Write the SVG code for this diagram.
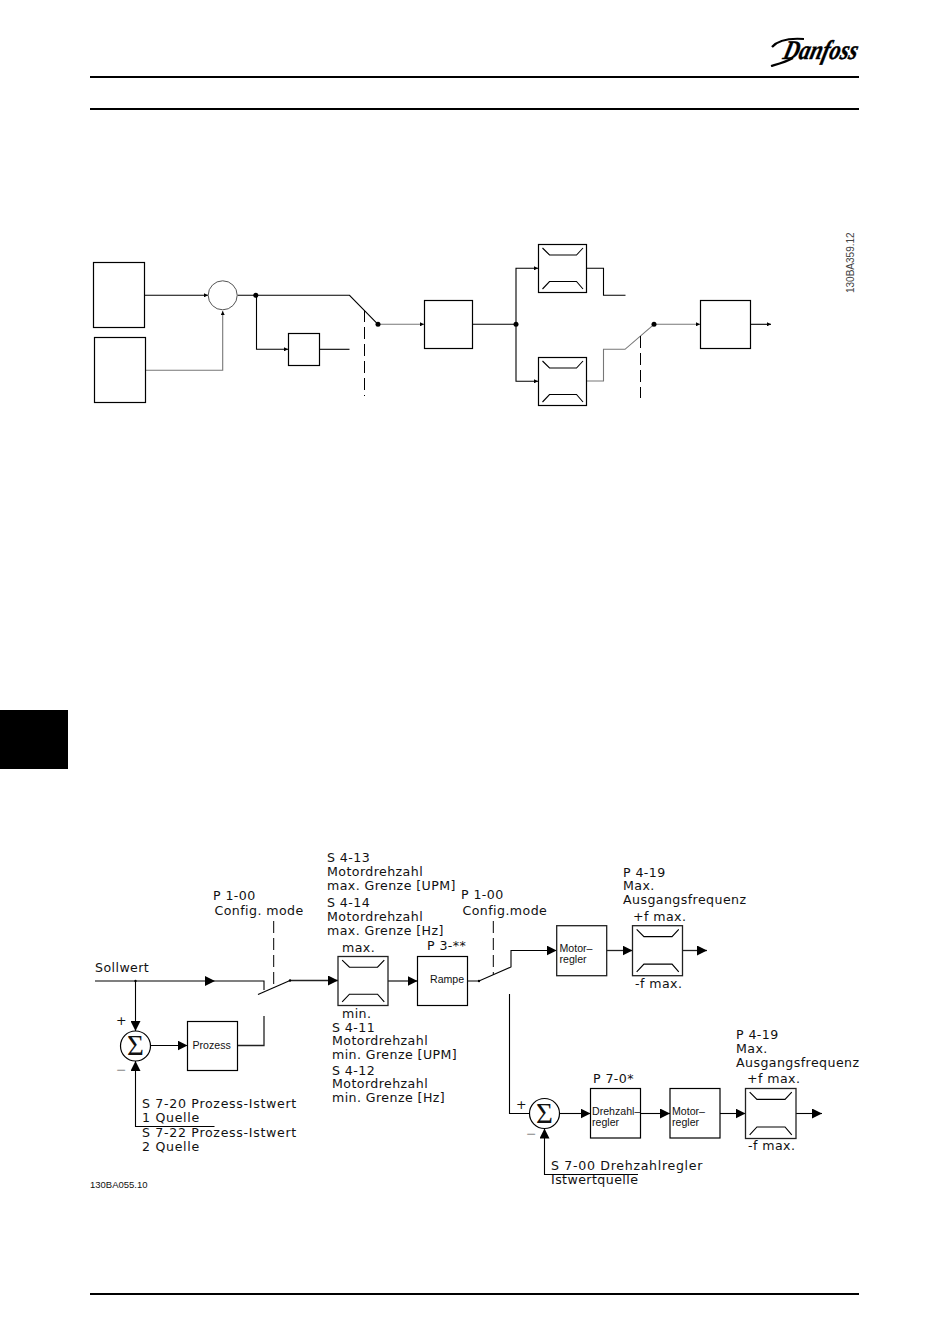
<svg xmlns="http://www.w3.org/2000/svg" width="950" height="1344" viewBox="0 0 950 1344">
<style>
.r{fill:#fff;stroke:#000;stroke-width:1.2}
.b{fill:#fff;stroke:#222;stroke-width:1.3}
.l{fill:none;stroke:#000;stroke-width:1.1}
.g{fill:none;stroke:#777;stroke-width:1.1}
.lb{fill:none;stroke:#222;stroke-width:1.3}
.d{fill:none;stroke:#000;stroke-width:1;stroke-dasharray:12 5}
.t{font-family:"DejaVu Sans",sans-serif;font-size:12.6px;letter-spacing:.42px;fill:#111}
.w{letter-spacing:.68px}
.s{font-family:"Liberation Sans",sans-serif;font-size:10.6px;fill:#111}
.h{fill:none;stroke:#000;stroke-width:2}
.sig{font-family:"Liberation Serif",serif;font-size:29px;fill:#111;text-anchor:middle}
</style>
<defs>
<marker id="sa" viewBox="0 0 6 6" refX="6" refY="3" markerWidth="6" markerHeight="4" markerUnits="userSpaceOnUse" orient="auto"><path d="M0 0L6 3L0 6z"/></marker>
<marker id="la" viewBox="0 0 10 10" refX="10" refY="5" markerWidth="10" markerHeight="10" markerUnits="userSpaceOnUse" orient="auto"><path d="M0 0L10 5L0 10z"/></marker>
<g id="lim"><path class="l" d="M4 3.500L11 10.500H38L44.500 3.500M4 44.500L11 37H38L44.500 44.500" stroke-width="1"/></g>
</defs>
<g id="page">
<path class="h" d="M90 77H859M90 109H859M90 1294H859"/>
<rect x="0" y="710" width="68" height="59" fill="#000"/>
<g id="logo">
<text transform="translate(782 59) skewX(-14)" font-family="Liberation Serif,serif" font-style="italic" font-weight="bold" font-size="27" textLength="74" lengthAdjust="spacingAndGlyphs" fill="#000" stroke="#000" stroke-width=".4">Danfoss</text>
<path d="M772 47C778 40 790 38 804 39M771 66C778 64 786 62 793 58" fill="none" stroke="#000" stroke-width="2.200"/>
</g>
</g>
<g id="connectors">
<path class="l" d="M144.500 295.300H208" marker-end="url(#sa)"/>
<path class="g" d="M145.500 370.300H222.700V311" marker-end="url(#sa)"/>
<path class="l" d="M237.500 295.300H349.500L378 324.300" stroke="#444"/>
<path class="l" d="M256.500 295.300V349.300H288" marker-end="url(#sa)"/>
<path class="l" d="M319.500 349.300H349.500"/>
<path class="d" d="M364.500 310V396"/>
<path class="g" d="M378 324.300H424" marker-end="url(#sa)"/>
<path class="l" d="M472.700 324.300H516"/>
<path class="l" d="M516 324.300V268.300H538" marker-end="url(#sa)"/>
<path class="l" d="M516 324.300V381.300H538" marker-end="url(#sa)"/>
<path class="l" d="M586.700 268.300H603.500V295.300H625.500"/>
<path class="g" d="M586.700 381H603.500V349.300H625L654 324.300" stroke-width="1.300"/>
<path class="d" d="M640.500 336V398"/>
<path class="g" d="M654 324.300H700" marker-end="url(#sa)"/>
<path class="l" d="M750.700 324.300H771" marker-end="url(#sa)"/>
<circle cx="255.800" cy="295.300" r="2.500"/><circle cx="378" cy="324.300" r="2.500"/><circle cx="516" cy="324.300" r="2.500"/><circle cx="654" cy="324.300" r="2.500"/>

<path class="l" d="M95 981H215" marker-end="url(#la)"/>
<path class="l" d="M215 981H264V990"/>
<path class="l" d="M258 994.500L290 980.500"/>
<path class="lb" d="M290 980.500H338" marker-end="url(#la)"/>
<path class="d" d="M273.700 921V987"/>
<path class="l" d="M135.500 981V1031" marker-end="url(#la)"/>
<path class="l" d="M150.500 1045.500H187.500" marker-end="url(#la)"/>
<path class="lb" d="M237.500 1045.500H264V1016"/>
<path class="l" d="M214.500 1126.500H135.500V1061" marker-end="url(#la)"/>
<path class="lb" d="M388 981H417.500" marker-end="url(#la)"/>
<path class="l" d="M467.500 981H479L511 967V950.500H556.700" marker-end="url(#la)"/>
<path class="d" d="M493.300 921V975"/>
<path class="lb" d="M606.700 950.500H632.500" marker-end="url(#la)"/>
<path class="lb" d="M682.500 950.500H707" marker-end="url(#la)"/>
<path class="l" d="M509.500 994V1113.500H529.500"/>
<path class="l" d="M559.500 1113.500H590.500" marker-end="url(#la)"/>
<path class="l" d="M640.500 1113.500H670" marker-end="url(#la)"/>
<path class="l" d="M720 1113.500H745.500" marker-end="url(#la)"/>
<path class="l" d="M796 1113.500H822" marker-end="url(#la)"/>
<path class="l" d="M638 1174.500H544.500V1128.500" marker-end="url(#la)"/>
<circle cx="135.500" cy="981" r="1.200"/><circle cx="290" cy="980.500" r="1.200"/><circle cx="479" cy="981" r="1.200"/>
</g>
<g id="n-top1"><rect class="r" x="93.500" y="262.500" width="51" height="65"/></g>
<g id="n-top2"><rect class="r" x="94.500" y="337.500" width="51" height="65"/></g>
<g id="n-sum"><circle cx="222.700" cy="295.300" r="14.500" fill="none" stroke="#555" stroke-width="1"/></g>
<g id="n-small"><rect class="r" x="288.500" y="333.500" width="31" height="32"/></g>
<g id="n-mid"><rect class="r" x="424.500" y="300.500" width="48" height="48"/></g>
<g id="n-lim1"><rect class="r" x="538.500" y="244.500" width="48" height="48"/><use href="#lim" x="538.500" y="244.500"/></g>
<g id="n-lim2"><rect class="r" x="538.500" y="357.500" width="48" height="48"/><use href="#lim" x="538.500" y="357.500"/></g>
<g id="n-out"><rect class="r" x="700.500" y="300.500" width="50" height="48"/></g>
<text transform="translate(854 293) rotate(-90)" font-family="Liberation Sans,sans-serif" font-size="10" fill="#444">130BA359.12</text>

<g id="n-sollwert"><text class="t" x="95" y="972">Sollwert</text></g>
<g id="n-p100a"><text class="t" x="213" y="900">P 1-00</text><text class="t" x="214.500" y="915">Config. mode</text></g>
<g id="n-s4max"><text class="t" x="327" y="862">S 4-13</text><text class="t" x="327" y="876">Motordrehzahl</text><text class="t" x="327" y="890">max. Grenze [UPM]</text><text class="t" x="327" y="907">S 4-14</text><text class="t" x="327" y="921">Motordrehzahl</text><text class="t" x="327" y="935">max. Grenze [Hz]</text><text class="t" x="342" y="952">max.</text></g>
<g id="n-lim3"><rect class="b" x="338" y="956.500" width="50" height="49" stroke="#666"/><use href="#lim" transform="translate(338 956.500) scale(1.040 1.020)"/></g>
<g id="n-s4min"><text class="t" x="342" y="1018">min.</text><text class="t" x="332" y="1032">S 4-11</text><text class="t" x="332" y="1045">Motordrehzahl</text><text class="t" x="332" y="1059">min. Grenze [UPM]</text><text class="t" x="332" y="1075">S 4-12</text><text class="t" x="332" y="1088">Motordrehzahl</text><text class="t" x="332" y="1102">min. Grenze [Hz]</text></g>
<g id="n-rampe"><text class="t" x="427" y="950">P 3-**</text><rect class="r" x="417.500" y="956.500" width="50" height="49"/><text class="s" x="430" y="983">Rampe</text></g>
<g id="n-sum1"><circle cx="135.500" cy="1046" r="15" fill="#fff" stroke="#000" stroke-width="1.200"/><text class="sig" x="135.500" y="1055">Σ</text><text class="t" x="116" y="1025">+</text><text class="t" x="116" y="1074" style="fill:#888">−</text></g>
<g id="n-prozess"><rect class="r" x="187.500" y="1021.500" width="50" height="49"/><text class="s" x="192.500" y="1049">Prozess</text></g>
<g id="n-s7"><text class="t w" x="142" y="1108">S 7-20 Prozess-Istwert</text><text class="t w" x="142" y="1122">1 Quelle</text><text class="t w" x="142" y="1137">S 7-22 Prozess-Istwert</text><text class="t w" x="142" y="1151">2 Quelle</text></g>
<text class="s" x="90" y="1188" style="font-size:9.500px">130BA055.10</text>
<g id="n-p100b"><text class="t" x="461" y="899">P 1-00</text><text class="t" x="462.500" y="915">Config.mode</text></g>
<g id="n-motor1"><rect class="b" x="556.700" y="925.700" width="50" height="50" stroke="#555"/><text class="s" x="559.500" y="952">Motor–</text><text class="s" x="559.500" y="963">regler</text></g>
<g id="n-lim4"><text class="t" x="623" y="877">P 4-19</text><text class="t" x="623" y="890">Max.</text><text class="t" x="623" y="904">Ausgangsfrequenz</text><text class="t" x="633" y="921">+f max.</text><rect class="b" x="632.500" y="925.700" width="50" height="50"/><use href="#lim" transform="translate(632.500 925.700) scale(1.040 1.040)"/><text class="t" x="635" y="988">-f max.</text></g>
<g id="n-sum2"><circle cx="544.500" cy="1113.500" r="15" fill="#fff" stroke="#000" stroke-width="1.200"/><text class="sig" x="544.500" y="1122.500">Σ</text><text class="t" x="516" y="1109">+</text><text class="t" x="526" y="1138" style="fill:#888">−</text></g>
<g id="n-drehzahl"><text class="t" x="593" y="1083">P 7-0*</text><rect class="r" x="590.500" y="1088.500" width="50" height="49.500"/><text class="s" x="592" y="1115">Drehzahl–</text><text class="s" x="592" y="1126">regler</text></g>
<g id="n-motor2"><rect class="r" x="670" y="1088.500" width="50" height="49.500"/><text class="s" x="672" y="1115">Motor–</text><text class="s" x="672" y="1126">regler</text></g>
<g id="n-lim5"><text class="t" x="736" y="1039">P 4-19</text><text class="t" x="736" y="1053">Max.</text><text class="t" x="736" y="1067">Ausgangsfrequenz</text><text class="t" x="747" y="1083">+f max.</text><rect class="b" x="745.500" y="1088.500" width="50.500" height="50"/><use href="#lim" transform="translate(745.500 1088.500) scale(1.040 1.040)"/><text class="t" x="748" y="1150">-f max.</text></g>
<g id="n-s700"><text class="t w" x="551" y="1170">S 7-00 Drehzahlregler</text><text class="t" x="551" y="1184">Istwertquelle</text></g>
</svg>
